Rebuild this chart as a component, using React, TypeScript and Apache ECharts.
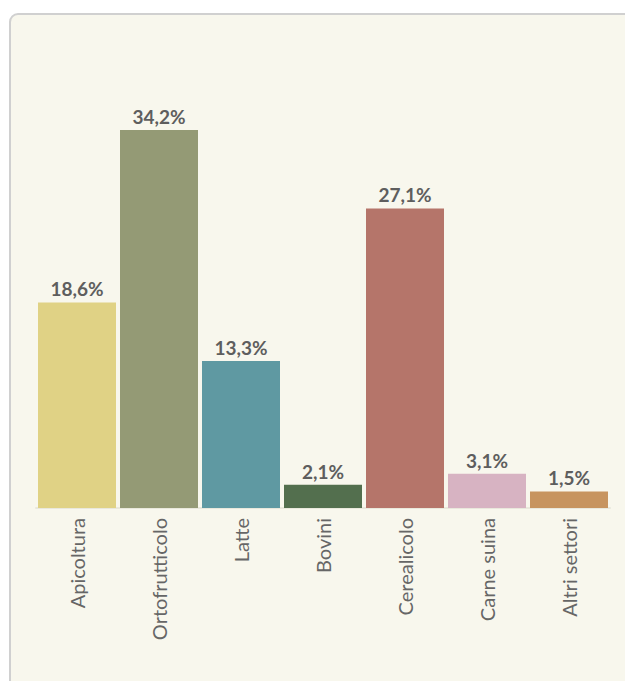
import React, { useEffect, useRef } from "react";
import * as echarts from "echarts";

const categories = ["Apicoltura", "Ortofrutticolo", "Latte", "Bovini", "Cerealicolo", "Carne suina", "Altri settori"];
const values = [18.6, 34.2, 13.3, 2.1, 27.1, 3.1, 1.5];
const colors = ["#e0d285", "#949a75", "#5f99a2", "#536f4e", "#b5756a", "#d7b3c2", "#c7945f"];

export default function App() {
  const ref = useRef<HTMLDivElement>(null);
  useEffect(() => {
    if (!ref.current) return;
    const chart = echarts.init(ref.current, undefined, { renderer: "svg" });
    chart.setOption({
      animation: false,
      grid: { left: 36, right: 15, top: 130, bottom: 173, containLabel: false },
      xAxis: {
        type: "category",
        data: categories,
        axisLine: { show: true, lineStyle: { color: "#e9e8dc", width: 2 } },
        axisTick: { show: false },
        axisLabel: {
          rotate: 90,
          interval: 0,
          color: "#666666",
          fontFamily: "Lato",
          fontSize: 20,
          margin: 10,
        },
      },
      yAxis: {
        type: "value",
        min: 0,
        max: 34.2,
        show: false,
        splitLine: { show: false },
      },
      series: [
        {
          type: "bar",
          barWidth: 78,
          data: values.map((v, i) => ({ value: v, itemStyle: { color: colors[i] } })),
          label: {
            show: true,
            position: "top",
            distance: 4,
            color: "#5e5e5e",
            fontFamily: "Lato",
            fontWeight: "bold",
            fontSize: 19,
            formatter: (p: any) => String(p.value).replace(".", ",") + "%",
          },
        },
      ],
    });
    return () => chart.dispose();
  }, []);
  return (
    <div style={{ position: "fixed", left: 0, top: 0, width: 625, height: 681, overflow: "hidden", background: "#ffffff" }}>
      <div
        style={{
          position: "absolute",
          left: 9,
          top: 13,
          width: 700,
          height: 760,
          border: "2px solid #d0d0d0",
          borderRadius: 9,
          background: "#f8f7ed",
          boxSizing: "border-box",
        }}
      />
      <div ref={ref} style={{ position: "absolute", left: 0, top: 0, width: 625, height: 681 }} />
    </div>
  );
}
